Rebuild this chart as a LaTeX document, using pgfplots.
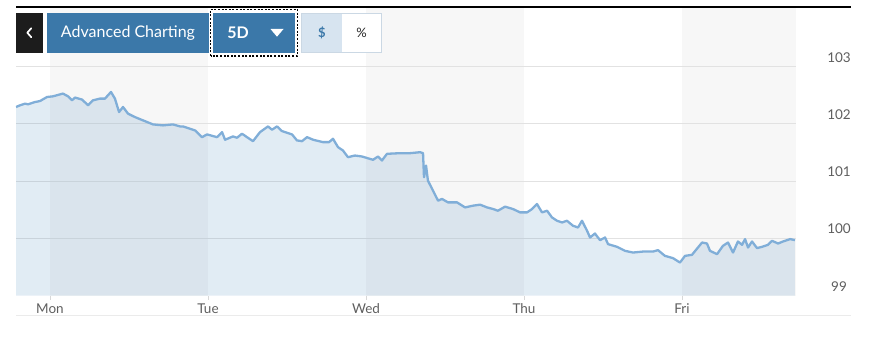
\documentclass[border=0pt]{standalone}
\usepackage{fontspec}
\setmainfont{Lato}
\usepackage{pgfplots}
\usepackage{pgfplotstable}
\pgfplotsset{compat=1.18}
\definecolor{bandgray}{HTML}{F7F7F7}
\definecolor{gridgray}{HTML}{E2E2E2}
\definecolor{tickgray}{HTML}{D8D8D8}
\definecolor{labelgray}{HTML}{5E5E5E}
\definecolor{linecol}{HTML}{80AED8}
\definecolor{fillcol}{HTML}{4F8CBE}
\definecolor{btnblue}{HTML}{3B78A9}
\definecolor{btndark}{HTML}{1C1C1C}
\definecolor{togfill}{HTML}{D7E4F0}
\definecolor{togborder}{HTML}{CBD8E4}
\definecolor{sepgray}{HTML}{EBEBEB}

\pgfplotstableread{
t v
-0.215 102.295
-0.190 102.325
-0.158 102.354
-0.139 102.342
-0.095 102.382
-0.063 102.400
-0.019 102.470
0.019 102.482
0.082 102.530
0.114 102.482
0.139 102.412
0.158 102.460
0.203 102.425
0.241 102.325
0.272 102.412
0.316 102.442
0.348 102.442
0.386 102.558
0.411 102.442
0.437 102.207
0.462 102.295
0.494 102.179
0.538 102.119
0.589 102.061
0.652 101.991
0.715 101.974
0.778 101.991
0.823 101.956
0.842 101.956
0.918 101.886
0.962 101.768
0.994 101.816
1.057 101.768
1.089 101.856
1.108 101.723
1.158 101.781
1.184 101.758
1.215 101.828
1.247 101.768
1.285 101.698
1.329 101.856
1.380 101.956
1.405 101.898
1.437 101.956
1.468 101.874
1.532 101.816
1.563 101.711
1.595 101.698
1.627 101.768
1.665 101.723
1.728 101.681
1.766 101.681
1.791 101.740
1.823 101.593
1.854 101.535
1.886 101.418
1.930 101.447
1.975 101.430
2.044 101.372
2.076 101.430
2.101 101.360
2.133 101.477
2.215 101.488
2.278 101.488
2.342 101.505
2.361 101.488
2.367 101.067
2.380 101.272
2.392 101.009
2.424 100.833
2.456 100.658
2.481 100.688
2.519 100.628
2.576 100.628
2.627 100.540
2.677 100.570
2.722 100.588
2.766 100.540
2.804 100.512
2.835 100.482
2.880 100.553
2.930 100.512
2.975 100.453
3.019 100.453
3.051 100.512
3.082 100.600
3.114 100.453
3.146 100.482
3.177 100.365
3.209 100.307
3.241 100.277
3.272 100.307
3.310 100.219
3.342 100.189
3.367 100.307
3.399 100.132
3.418 100.014
3.449 100.084
3.481 99.968
3.513 100.014
3.532 99.898
3.589 99.851
3.639 99.781
3.690 99.751
3.753 99.768
3.816 99.768
3.848 99.793
3.892 99.693
3.943 99.653
3.987 99.576
4.019 99.693
4.063 99.711
4.101 99.839
4.127 99.926
4.158 99.909
4.177 99.781
4.222 99.723
4.259 99.868
4.291 99.926
4.323 99.751
4.354 99.944
4.380 99.886
4.399 99.986
4.418 99.839
4.443 99.944
4.475 99.828
4.506 99.851
4.544 99.886
4.570 99.956
4.608 99.909
4.639 99.944
4.684 99.986
4.715 99.968
}\pricedata

\begin{document}
\begin{tikzpicture}[x=1pt,y=1pt]
\path[use as bounding box] (0,0) rectangle (870,346);
\begin{axis}[
  at={(16pt,50.5pt)}, anchor=south west,
  scale only axis, width=780pt, height=287.5pt,
  xmin=-0.2152, xmax=4.7215, ymin=99, ymax=104.026,
  axis line style={draw=none},
  xtick={0,1,2,3,4}, xticklabels={Mon,Tue,Wed,Thu,Fri},
  ytick={99,100,101,102,103},
  xtick pos=bottom, ytick pos=right, yticklabel pos=right,
  tick align=outside, major tick length=4pt,
  x tick style={color=tickgray, line width=0.8pt},
  y tick style={draw=none},
  /pgf/number format/assume math mode=true,
  ticklabel style={font=\fontsize{13.5}{16}\selectfont, text=labelgray},
  xticklabel style={anchor=north, yshift=-1pt},
  yticklabel style={anchor=base, xshift=39pt, yshift=4.5pt},
]
% day bands
\fill[bandgray] (axis cs:0,99) rectangle (axis cs:1,104.026);
\fill[bandgray] (axis cs:2,99) rectangle (axis cs:3,104.026);
\fill[bandgray] (axis cs:4,99) rectangle (axis cs:4.7215,104.026);
% grid lines
\foreach \g in {100,101,102,103}{
  \edef\tmp{\noexpand\draw[gridgray, line width=1pt] (axis cs:-0.2152,\g) -- (axis cs:4.7215,\g);}\tmp
}
\addplot[draw=none, fill=fillcol, fill opacity=0.17] table[x=t,y=v] {\pricedata} \closedcycle;
\addplot[linecol, line width=2.3pt, line join=round] table[x=t,y=v] {\pricedata};
\end{axis}
% separator lines
\draw[black, line width=1.8pt] (16,339.3) -- (851,339.3);
\draw[sepgray, line width=1pt] (16,31) -- (851,31);
% back button
\fill[btndark] (16,293.3) rectangle (42.7,333.3);
\draw[white, line width=1.7pt, line cap=round, line join=round] (31.3,317.8) -- (27.3,313.3) -- (31.3,308.8);
% Advanced Charting button
\fill[btnblue] (46.7,293.3) rectangle (209,333.3);
\node[text=white, font=\fontsize{16}{19}\selectfont, anchor=center] at (128,313.3) {Advanced Charting};
% 5D dropdown
\draw[black, line width=1.3pt, dash pattern=on 2pt off 1.6pt] (210.5,290) rectangle (297.5,336.5);
\fill[btnblue] (213,293.3) rectangle (295,333.3);
\node[text=white, font=\fontsize{16}{19}\selectfont\bfseries, anchor=center] at (238,313.3) {5D};
\fill[white] (270.5,317) -- (283.5,317) -- (277,309.3) -- cycle;
% $ / % toggle
\fill[togfill] (301.7,293.3) rectangle (342,332.7);
\fill[white] (342,293.3) rectangle (381,332.7);
\draw[togborder, line width=0.8pt] (301.7,293.3) rectangle (381,332.7);
\node[text=btnblue, font=\fontsize{13}{16}\selectfont\bfseries] at (322,313.3) {\$};
\node[text=black!85, font=\fontsize{13}{16}\selectfont] at (361.5,313.3) {\%};
\end{tikzpicture}
\end{document}
